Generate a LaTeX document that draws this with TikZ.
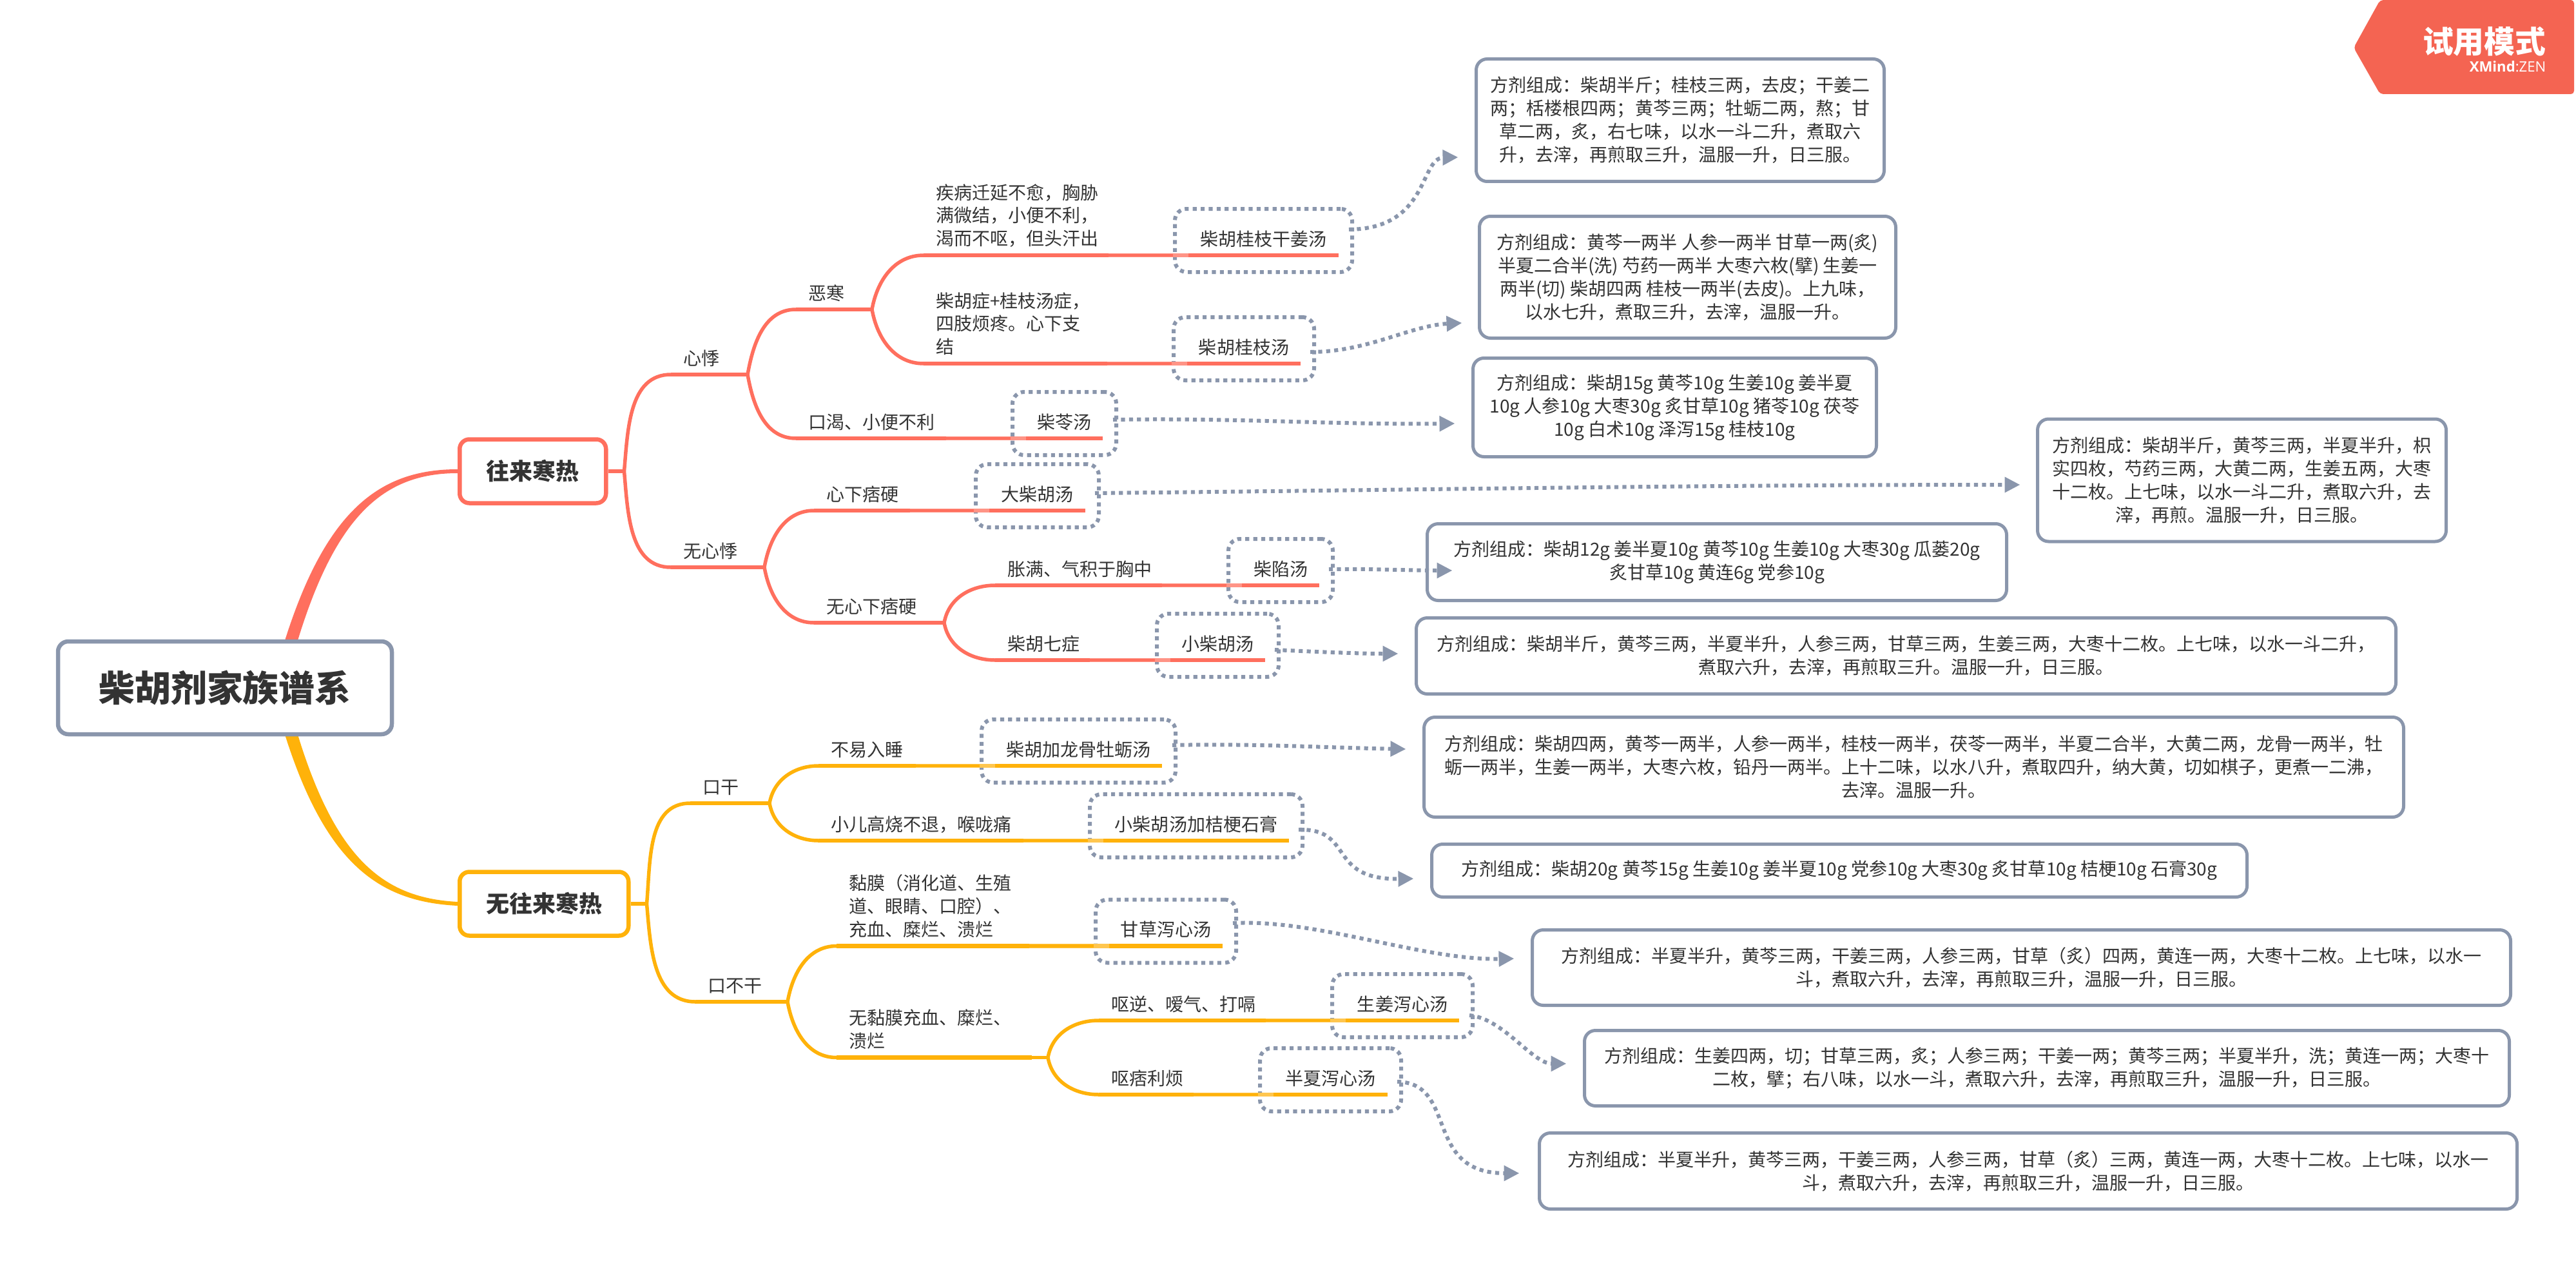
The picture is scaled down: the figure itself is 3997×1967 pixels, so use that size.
\documentclass[tikz,border=0pt]{standalone}
\usepackage{fontspec}
\setmainfont{Noto Sans CJK SC}
\newfontfamily\logofont{Open Sans}
\usetikzlibrary{arrows.meta,calc,fit}
\definecolor{coral}{HTML}{FF6F5E}
\definecolor{coralpale}{HTML}{FF9486}
\definecolor{amber}{HTML}{FFB20A}
\definecolor{amberpale}{HTML}{FFC64F}
\definecolor{slate}{HTML}{8A96AC}
\definecolor{ink}{HTML}{333333}
\definecolor{badge}{HTML}{F46452}
\tikzset{
    rootbox/.style={draw=slate, fill=white, line width=0.65mm, rounded corners=1.6mm, inner sep=0pt, text=ink,
        font=\fontsize{15.9pt}{19pt}\selectfont\bfseries},
    mainbox/.style={fill=white, line width=0.65mm, rounded corners=1.5mm, inner sep=0pt, text=ink,
        font=\fontsize{10.24pt}{12pt}\selectfont\bfseries},
    symptom/.style={anchor=south west, align=left, inner xsep=1.9mm, inner ysep=0pt, outer sep=0pt, text depth=1.5mm,
        text=ink, font=\fontsize{7.97pt}{10.24pt}\selectfont},
    formula/.style={anchor=south west, align=center, inner xsep=0pt, inner ysep=0pt, outer sep=0pt, text height=3.1mm, text depth=1.5mm,
        text=ink, font=\fontsize{7.97pt}{10.24pt}\selectfont},
    dotbox/.style={draw=slate, line width=0.6mm, dash pattern=on 0.62mm off 0.62mm, rounded corners=1.8mm,
        inner xsep=2.1mm, inner ysep=2.6mm},
    recipe/.style={draw=slate, fill=white, line width=0.5mm, rounded corners=1.7mm, inner sep=0pt, align=center, text=ink,
        font=\fontsize{7.97pt}{10.24pt}\selectfont},
    coralline/.style={draw=coral, line width=0.67mm},
    coralfork/.style={draw=coral, line width=0.55mm},
    coralstub/.style={draw=coralpale, line width=0.67mm},
    coralcore/.style={draw=coral, line width=0.42mm},
    amberline/.style={draw=amber, line width=0.67mm},
    amberfork/.style={draw=amber, line width=0.55mm},
    amberstub/.style={draw=amberpale, line width=0.67mm},
    ambercore/.style={draw=amber, line width=0.42mm},
    dotarrow/.style={draw=slate, line width=0.6mm, dash pattern=on 0.62mm off 0.62mm,
        -{Triangle[length=2.4mm,width=2.3mm]}},
}
\begin{document}
\begin{tikzpicture}[x=0.1mm,y=-0.1mm]
    \useasboundingbox (0,0) rectangle (3997,1967);

    \node[mainbox, draw=coral, minimum width=22.7mm, minimum height=9.9mm, anchor=west] (hot) at (710,731) {往来寒热};
    \node[mainbox, draw=amber, minimum width=26.2mm, minimum height=9.9mm, anchor=west] (nohot) at (710,1402) {无往来寒热};
    \fill[coral] (440,1000) .. controls (505,790) and (590,728) .. ($(hot.west)+(0,-3)$) -- ($(hot.west)+(0,3)$) .. controls (595,734) and (520,800) .. (460,1000) -- cycle;
    \fill[amber] (440,1133) .. controls (505,1343) and (590,1399) .. ($(nohot.west)+(0,3)$) -- ($(nohot.west)+(0,-3)$) .. controls (595,1393) and (520,1333) .. (460,1133) -- cycle;
    \node[rootbox, minimum width=51.8mm, minimum height=14.4mm] (root) at (349,1067) {柴胡剂家族谱系};

    \node[symptom, text width=5.4mm] (heart) at (1041,581) {心悸};
    \node[symptom, text width=8mm] (noheart) at (1041,880) {无心悸};
    \node[symptom, text width=5.4mm] (chill) at (1235,480) {恶寒};
    \node[symptom, text width=19.5mm] (thirst) at (1235,680) {口渴、小便不利};
    \node[symptom, text width=24.9mm, text depth=8.7mm] (lingering) at (1433,396) {疾病迁延不愈，胸胁\\满微结，小便不利，\\渴而不呕，但头汗出};
    \node[symptom, text width=24.7mm, text depth=8.7mm] (limbs) at (1433,564) {柴胡症+桂枝汤症，\\四肢烦疼。心下支\\结};
    \node[symptom, text width=11.1mm] (hard) at (1263,792) {心下痞硬};
    \node[symptom, text width=13.6mm] (nohard) at (1263,966) {无心下痞硬};
    \node[symptom, text width=22.1mm] (chest) at (1544,908) {胀满、气积于胸中};
    \node[symptom, text width=10.9mm] (seven) at (1544,1024) {柴胡七症};

    \node[symptom, text width=5.2mm] (dry) at (1071,1246) {口干};
    \node[symptom, text width=8mm] (nodry) at (1079,1554) {口不干};
    \node[symptom, text width=11.3mm] (sleep) at (1270,1188) {不易入睡};
    \node[symptom, text width=28mm] (child) at (1270,1304) {小儿高烧不退，喉咙痛};
    \node[symptom, text width=26.1mm, text depth=8.7mm] (mucosa) at (1298,1467.5) {黏膜（消化道、生殖\\道、眼睛、口腔）、\\充血、糜烂、溃烂};
    \node[symptom, text width=26.5mm, text depth=5.1mm] (nomucosa) at (1298,1640.5) {无黏膜充血、糜烂、\\溃烂};
    \node[symptom, text width=22.1mm] (belch) at (1705,1583) {呕逆、嗳气、打嗝};
    \node[symptom, text width=10.9mm] (pi) at (1705,1698) {呕痞利烦};

    \node[formula, minimum width=23.3mm] (fGuiJiang) at (1844,396) {柴胡桂枝干姜汤};
    \node[formula, minimum width=17.6mm] (fGuiZhi) at (1842,564) {柴胡桂枝汤};
    \node[formula, minimum width=11.9mm] (fLing) at (1592,680) {柴苓汤};
    \node[formula, minimum width=14.9mm] (fDa) at (1535,792) {大柴胡汤};
    \node[formula, minimum width=12mm] (fXian) at (1927,908) {柴陷汤};
    \node[formula, minimum width=14.7mm] (fXiao) at (1816,1024) {小柴胡汤};
    \node[formula, minimum width=25.9mm] (fLong) at (1544,1188) {柴胡加龙骨牡蛎汤};
    \node[formula, minimum width=28.8mm] (fJie) at (1712,1304) {小柴胡汤加桔梗石膏};
    \node[formula, minimum width=17.6mm] (fGan) at (1721,1467.5) {甘草泻心汤};
    \node[formula, minimum width=17.6mm] (fSheng) at (2088,1583) {生姜泻心汤};
    \node[formula, minimum width=17.7mm] (fBan) at (1976,1698) {半夏泻心汤};

    \foreach \n in {fGuiJiang,fGuiZhi,fLing,fDa,fXian,fXiao,fLong,fJie,fGan,fSheng,fBan}
        \node[dotbox, fit=(\n)] (box\n) {};

    \node[recipe, minimum width=63.3mm, minimum height=19mm] (rGuiJiang) at (2607,186.5) {方剂组成：柴胡半斤；桂枝三两，去皮；干姜二\\两；栝楼根四两；黄芩三两；牡蛎二两，熬；甘\\草二两，炙，右七味，以水一斗二升，煮取六\\升，去滓，再煎取三升，温服一升，日三服。};
    \node[recipe, minimum width=64.6mm, minimum height=18.9mm] (rGuiZhi) at (2618.5,430) {方剂组成：黄芩一两半 人参一两半 甘草一两(炙)\\半夏二合半(洗) 芍药一两半 大枣六枚(擘) 生姜一\\两半(切) 柴胡四两 桂枝一两半(去皮)。上九味，\\以水七升，煮取三升，去滓，温服一升。};
    \node[recipe, minimum width=62.6mm, minimum height=15.3mm] (rLing) at (2598.5,632) {方剂组成：柴胡15g 黄芩10g 生姜10g 姜半夏\\10g 人参10g 大枣30g 炙甘草10g 猪苓10g 茯苓\\10g 白术10g 泽泻15g 桂枝10g};
    \node[recipe, minimum width=63.4mm, minimum height=19mm] (rDa) at (3478.5,745) {方剂组成：柴胡半斤，黄芩三两，半夏半升，枳\\实四枚，芍药三两，大黄二两，生姜五两，大枣\\十二枚。上七味，以水一斗二升，煮取六升，去\\滓，再煎。温服一升，日三服。};
    \node[recipe, minimum width=89.9mm, minimum height=11.9mm] (rXian) at (2664,872) {方剂组成：柴胡12g 姜半夏10g 黄芩10g 生姜10g 大枣30g 瓜蒌20g\\炙甘草10g 黄连6g 党参10g};
    \node[recipe, minimum width=152mm, minimum height=11.8mm] (rXiao) at (2957.5,1017.5) {方剂组成：柴胡半斤，黄芩三两，半夏半升，人参三两，甘草三两，生姜三两，大枣十二枚。上七味，以水一斗二升，\\煮取六升，去滓，再煎取三升。温服一升，日三服。};
    \node[recipe, minimum width=152mm, minimum height=15.5mm] (rLong) at (2969.5,1190) {方剂组成：柴胡四两，黄芩一两半，人参一两半，桂枝一两半，茯苓一两半，半夏二合半，大黄二两，龙骨一两半，牡\\蛎一两半，生姜一两半，大枣六枚，铅丹一两半。上十二味，以水八升，煮取四升，纳大黄，切如棋子，更煮一二沸，\\去滓。温服一升。};
    \node[recipe, minimum width=126.5mm, minimum height=8.2mm] (rJie) at (2854,1350.5) {方剂组成：柴胡20g 黄芩15g 生姜10g 姜半夏10g 党参10g 大枣30g 炙甘草10g 桔梗10g 石膏30g};
    \node[recipe, minimum width=151.8mm, minimum height=11.7mm] (rGan) at (3136.5,1501) {方剂组成：半夏半升，黄芩三两，干姜三两，人参三两，甘草（炙）四两，黄连一两，大枣十二枚。上七味，以水一\\斗，煮取六升，去滓，再煎取三升，温服一升，日三服。};
    \node[recipe, minimum width=143.5mm, minimum height=11.7mm] (rSheng) at (3176,1657) {方剂组成：生姜四两，切；甘草三两，炙；人参三两；干姜一两；黄芩三两；半夏半升，洗；黄连一两；大枣十\\二枚，擘；右八味，以水一斗，煮取六升，去滓，再煎取三升，温服一升，日三服。};
    \node[recipe, minimum width=151.7mm, minimum height=11.8mm] (rBan) at (3147,1816.5) {方剂组成：半夏半升，黄芩三两，干姜三两，人参三两，甘草（炙）三两，黄连一两，大枣十二枚。上七味，以水一\\斗，煮取六升，去滓，再煎取三升，温服一升，日三服。};

    \foreach \n in {heart,noheart,chill,thirst,lingering,limbs,hard,nohard,chest,seven,fGuiJiang,fGuiZhi,fLing,fDa,fXian,fXiao}
        \draw[coralline] (\n.south west) -- (\n.south east);
    \foreach \n in {dry,nodry,sleep,child,mucosa,nomucosa,belch,pi,fLong,fJie,fGan,fSheng,fBan}
        \draw[amberline] (\n.south west) -- (\n.south east);

    \foreach \a/\b in {thirst/fLing,lingering/fGuiJiang,limbs/fGuiZhi,hard/fDa,chest/fXian,seven/fXiao} {
        \draw[coralstub] (\a.south east) -- (\b.south west);
        \draw[coralcore] (\a.south east) -- (\a.south east -| box\b.west);
    }
    \foreach \a/\b in {sleep/fLong,child/fJie,mucosa/fGan,belch/fSheng,pi/fBan} {
        \draw[amberstub] (\a.south east) -- (\b.south west);
        \draw[ambercore] (\a.south east) -- (\a.south east -| box\b.west);
    }

    \draw[coralline] (hot.east) -- ++(25,0) coordinate (forkHot);
    \draw[coralfork] (forkHot) to[out=85,in=180] (heart.south west);
    \draw[coralfork] (forkHot) to[out=-85,in=180] (noheart.south west);
    \draw[coralfork] (heart.south east) -- ++(27,0) coordinate (forkHeart);
    \draw[coralfork] (forkHeart) to[out=80,in=180] (chill.south west);
    \draw[coralfork] (forkHeart) to[out=-80,in=180] (thirst.south west);
    \draw[coralfork] (noheart.south east) -- ++(27,0) coordinate (forkNoheart);
    \draw[coralfork] (forkNoheart) to[out=80,in=180] (hard.south west);
    \draw[coralfork] (forkNoheart) to[out=-80,in=180] (nohard.south west);
    \draw[coralfork] (chill.south east) -- ++(26,0) coordinate (forkChill);
    \draw[coralfork] (forkChill) to[out=80,in=180] (lingering.south west);
    \draw[coralfork] (forkChill) to[out=-80,in=180] (limbs.south west);
    \draw[coralfork] (nohard.south east) -- ++(28,0) coordinate (forkNohard);
    \draw[coralfork] (forkNohard) to[out=80,in=180] (chest.south west);
    \draw[coralfork] (forkNohard) to[out=-80,in=180] (seven.south west);

    \draw[amberline] (nohot.east) -- ++(25,0) coordinate (forkNohot);
    \draw[amberfork] (forkNohot) to[out=85,in=180] (dry.south west);
    \draw[amberfork] (forkNohot) to[out=-85,in=180] (nodry.south west);
    \draw[amberfork] (dry.south east) -- ++(33,0) coordinate (forkDry);
    \draw[amberfork] (forkDry) to[out=80,in=180] (sleep.south west);
    \draw[amberfork] (forkDry) to[out=-80,in=180] (child.south west);
    \draw[amberfork] (nodry.south east) -- ++(25,0) coordinate (forkNodry);
    \draw[amberfork] (forkNodry) to[out=80,in=180] (mucosa.south west);
    \draw[amberfork] (forkNodry) to[out=-80,in=180] (nomucosa.south west);
    \draw[amberfork] (nomucosa.south east) -- ++(25,0) coordinate (forkNomucosa);
    \draw[amberfork] (forkNomucosa) to[out=80,in=180] (belch.south west);
    \draw[amberfork] (forkNomucosa) to[out=-80,in=180] (pi.south west);

    \draw[dotarrow] ($(boxfGuiJiang.east)+(-8,-17)$) .. controls +(125,-1) and +(-60,1) .. ($(rGuiJiang.west)+(-25.5,57.5)$);
    \draw[dotarrow] ($(boxfGuiZhi.east)+(-9,5)$) .. controls +(90,0) and +(-81,4) .. ($(rGuiZhi.west)+(-24.5,71)$);
    \draw[dotarrow] ($(boxfLing.east)+(-8,-6)$) .. controls +(200,-3) and +(-200,2) .. ($(rLing.west)+(-25.5,25)$);
    \draw[dotarrow] ($(boxfDa.east)+(-9,-4)$) .. controls +(500,-5) and +(-500,0) .. ($(rDa.west)+(-24.5,7)$);
    \draw[dotarrow] ($(boxfXian.east)+(-9,-2)$) .. controls +(60,-1) and +(-60,0) .. ($(rXian.west)+(41.5,13)$);
    \draw[dotarrow] ($(boxfXiao.east)+(-9,7)$) .. controls +(60,3) and +(-60,0) .. ($(rXiao.west)+(-25.5,-3.5)$);
    \draw[dotarrow] ($(boxfLong.east)+(-8,-9)$) .. controls +(120,-3) and +(-120,-2) .. ($(rLong.west)+(-25.5,-28)$);
    \draw[dotarrow] ($(boxfJie.east)+(-9,6)$) .. controls +(88,-2) and +(-136,2) .. ($(rJie.west)+(-25.5,12.5)$);
    \draw[dotarrow] ($(boxfGan.east)+(-8,-12.5)$) .. controls +(130,-7) and +(-142,3) .. ($(rGan.west)+(-25.5,-14)$);
    \draw[dotarrow] ($(boxfSheng.east)+(-8,15)$) .. controls +(53,5) and +(-53,0) .. ($(rSheng.west)+(-25.5,-7)$);
    \draw[dotarrow] ($(boxfBan.east)+(-9,3)$) .. controls +(95,2) and +(-150,0) .. ($(rBan.west)+(-28.5,3.5)$);

    \fill[badge, rounded corners=0.5mm] (3693,0) -- (3652,74) -- (3693,146) -- (3994,146) -- (3994,0) -- cycle;
    \node[anchor=east, inner sep=0pt, text=white, font=\fontsize{13.6pt}{16pt}\selectfont\bfseries] (trial) at (3951,64) {试用模式};
    \node[anchor=east, inner sep=0pt, text=white, font=\fontsize{6.3pt}{8pt}\logofont] (brand) at (3951,103) {\textbf{XMind}:ZEN};
\end{tikzpicture}
\end{document}
